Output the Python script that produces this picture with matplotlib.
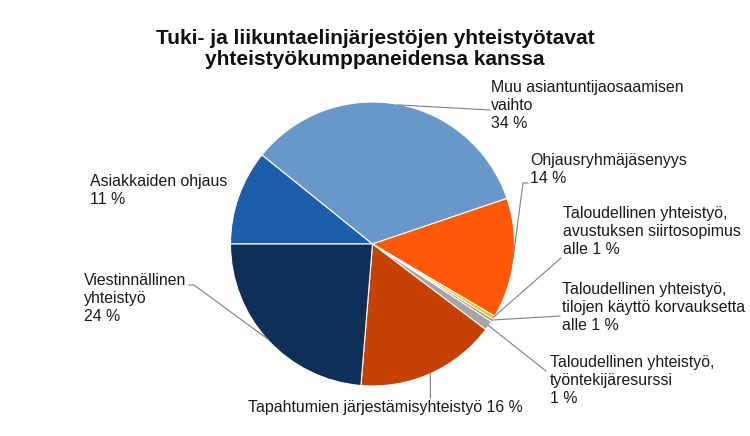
import numpy as np
import matplotlib.pyplot as plt

plt.rcParams['font.family'] = ['Liberation Sans', 'DejaVu Sans']

# data
categories = [
    "Asiakkaiden ohjaus",
    "Muu asiantuntijaosaamisen\nvaihto",
    "Ohjausryhmäjäsenyys",
    "Taloudellinen yhteistyö,\navustuksen siirtosopimus",
    "Taloudellinen yhteistyö,\ntilojen käyttö korvauksetta",
    "Taloudellinen yhteistyö,\ntyöntekijäresurssi",
    "Tapahtumien järjestämisyhteistyö",
    "Viestinnällinen\nyhteistyö",
]
values = [10.8, 34.0, 13.7, 0.4, 0.3, 1.1, 16.0, 23.7]
value_labels = ["11 %", "34 %", "14 %", "alle 1 %", "alle 1 %", "1 %", "16 %", "24 %"]
colors = ["#1C5EAA", "#6897C9", "#FF5808", "#FFC000", "#7F7F7F", "#A5A5A5", "#C54104", "#0E2F58"]

W, H = 750, 436
fig = plt.figure(figsize=(W / 100, H / 100), dpi=100)

# pie centre (372.5, 244) px, radius 142 px
cx, cy, r = 372.5, 244.0, 142.0
ax = fig.add_axes([(cx - r) / W, (H - cy - r) / H, 2 * r / W, 2 * r / H])

wedges, _ = ax.pie(values, colors=colors, startangle=180, counterclock=False, radius=1,
                   wedgeprops=dict(edgecolor='white', linewidth=0.8))
ax.set_xlim(-1, 1)
ax.set_ylim(-1, 1)
ax.axis('off')


def px(x, y):
    # pixel position -> data coords
    return (x - cx) / r, (cy - y) / r


def edge(i):
    w = wedges[i]
    a = np.deg2rad((w.theta1 + w.theta2) / 2)
    return np.cos(a), np.sin(a)


# label layout: text anchor (pixel, top-left), leader path in pixels (after wedge edge)
layout = [
    ((90, 174), None),
    ((491, 80), [(490, 110)]),
    ((530, 153), [(523, 183), (528, 183)]),
    ((563, 206), [(561, 258)]),
    ((562, 282), [(560, 316)]),
    ((550, 355), [(546, 371)]),
    ((248, 400), [(430.5, 398)]),
    ((84, 273), [(194, 285), (189, 285)]),
]

fs = 11.4
for i, (cat, val) in enumerate(zip(categories, value_labels)):
    (tx, ty), path = layout[i]
    if i == 6:
        txt = cat + " " + val
    else:
        txt = cat + "\n" + val
    x, y = px(tx, ty)
    ax.text(x, y, txt, ha='left', va='top', fontsize=fs, color='#1a1a1a',
            linespacing=1.27, clip_on=False)
    if path:
        ex, ey = edge(i)
        xs = [ex * 0.995] + [px(p[0], p[1])[0] for p in path]
        ys = [ey * 0.995] + [px(p[0], p[1])[1] for p in path]
        ax.plot(xs, ys, color='#7f7f7f', linewidth=0.8, clip_on=False)

fig.text(375 / W, 1 - 29 / H,
         "Tuki- ja liikuntaelinjärjestöjen yhteistyötavat\nyhteistyökumppaneidensa kanssa",
         ha='center', va='top', fontsize=15, fontweight='bold', color='#111111',
         linespacing=1.12)

fig.savefig("out.png", dpi=100)
